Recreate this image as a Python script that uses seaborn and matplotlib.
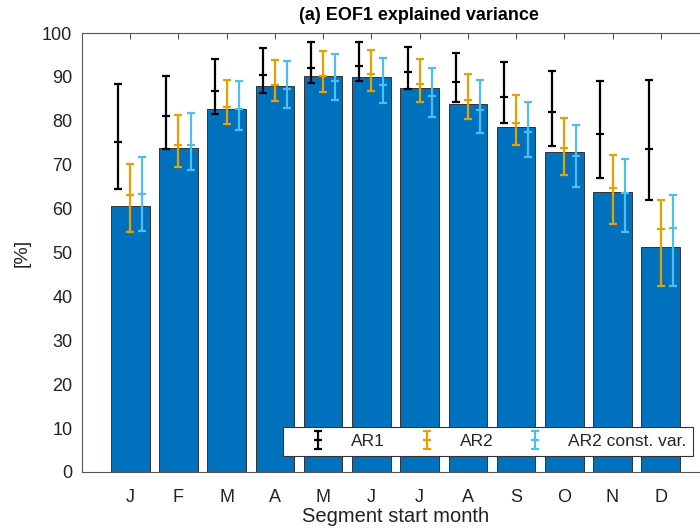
import numpy as np
import pandas as pd
import matplotlib
matplotlib.use("Agg")
import matplotlib.pyplot as plt
import seaborn as sns

# Month categories and their axis letters
months = ["Jan", "Feb", "Mar", "Apr", "May", "Jun",
          "Jul", "Aug", "Sep", "Oct", "Nov", "Dec"]
month_letters = ["J", "F", "M", "A", "M", "J", "J", "A", "S", "O", "N", "D"]

# EOF1 explained variance of the observations [%]
explained = [60.5, 73.9, 82.8, 88.0, 90.1, 90.0, 87.4, 83.9, 78.7, 73.0, 63.8, 51.3]

# Model ensembles: median with lower / upper range [%]
ar1_mid = [75.2, 81.2, 86.9, 90.5, 92.1, 92.4, 91.1, 88.8, 85.5, 81.9, 76.9, 73.6]
ar1_lo = [64.5, 73.6, 81.5, 86.4, 88.6, 89.0, 87.2, 84.2, 79.5, 74.2, 67.0, 62.0]
ar1_hi = [88.3, 90.1, 94.0, 96.5, 98.0, 98.0, 96.7, 95.5, 93.3, 91.3, 89.1, 89.4]

ar2_mid = [63.0, 74.6, 83.1, 88.2, 90.3, 90.6, 88.3, 84.7, 79.5, 73.7, 64.8, 55.4]
ar2_lo = [54.6, 69.5, 79.2, 84.5, 86.6, 86.9, 84.3, 80.3, 74.4, 67.6, 56.6, 42.4]
ar2_hi = [70.1, 81.3, 89.2, 93.9, 95.9, 96.2, 94.0, 90.7, 85.9, 80.6, 72.3, 62.0]

ar2c_mid = [63.3, 74.4, 82.7, 87.2, 89.1, 88.2, 85.7, 82.5, 77.5, 72.0, 63.6, 55.6]
ar2c_lo = [54.8, 68.9, 77.9, 82.9, 84.8, 84.1, 80.9, 77.2, 71.7, 65.0, 54.6, 42.3]
ar2c_hi = [71.8, 81.8, 89.1, 93.6, 95.2, 94.2, 92.1, 89.3, 84.3, 79.0, 71.3, 63.2]

sns.set_theme(style="white")
plt.rcParams["font.family"] = ["Liberation Sans", "DejaVu Sans"]

fig = plt.figure(figsize=(7.0, 5.31), dpi=100)
ax = fig.add_axes([82 / 700, 59 / 531, 627 / 700, 439 / 531])

df = pd.DataFrame({"month": months, "explained": explained})
sns.barplot(data=df, x="month", y="explained", order=months, color="#0072BD",
            saturation=1, width=0.8, edgecolor="#333333", linewidth=0.7, ax=ax)

x = np.arange(len(months))
series = [
    ("AR1", ar1_mid, ar1_lo, ar1_hi, "black", -0.25),
    ("AR2", ar2_mid, ar2_lo, ar2_hi, "#E8A000", 0.0),
    ("AR2 const. var.", ar2c_mid, ar2c_lo, ar2c_hi, "#4DBEEE", 0.25),
]
handles = []
for label, mid, lo, hi, col, off in series:
    mid = np.asarray(mid)
    yerr = np.vstack([mid - np.asarray(lo), np.asarray(hi) - mid])
    h = ax.errorbar(x + off, mid, yerr=yerr, fmt="_", color=col, ecolor=col,
                    elinewidth=1.6, capsize=3.2, capthick=1.6,
                    markersize=6.4, markeredgewidth=1.6, label=label, zorder=3)
    handles.append(h)

ax.set_xlim(-1, 12)
ax.set_ylim(0, 100)
ax.set_yticks(np.arange(0, 101, 10))
ax.set_xticks(x)
ax.set_xticklabels(month_letters)
ax.tick_params(axis="both", direction="in", length=4, width=0.8, color="#555555",
               labelsize=13, labelcolor="#222222", top=True, right=True)
ax.tick_params(axis="x", pad=12)
ax.tick_params(axis="y", pad=7)
for side in ["left", "bottom", "top", "right"]:
    ax.spines[side].set_color("#555555")
    ax.spines[side].set_linewidth(0.8)

ax.set_xlabel("Segment start month", fontsize=14.5, color="#222222", labelpad=1)
ax.set_ylabel("[%]", fontsize=14, color="#222222", labelpad=8)
ax.set_title("(a) EOF1 explained variance", fontsize=13, fontweight="bold",
             color="black", pad=9, x=0.538)

leg = ax.legend(handles=handles, loc="lower right", bbox_to_anchor=(0.975, 0.036),
                ncol=3, frameon=True, fancybox=False, edgecolor="#333333",
                framealpha=1, fontsize=12.5, handlelength=3.2, handletextpad=0.3,
                columnspacing=0.8, borderpad=0.4, borderaxespad=0)
leg.get_frame().set_linewidth(0.8)
leg.set_zorder(5)

fig.savefig("out.png", dpi=100)
